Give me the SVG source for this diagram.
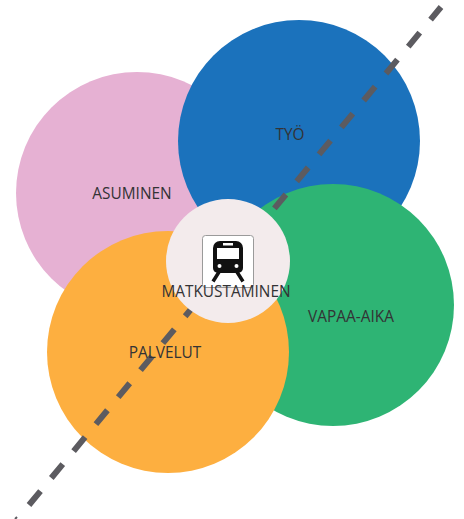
<svg xmlns="http://www.w3.org/2000/svg" width="464" height="519" viewBox="0 0 464 519">
<style>
text{font-family:"Open Sans","Liberation Sans",sans-serif;font-size:15.4px;fill:#333335;text-anchor:middle}
.c{stroke:none}
#connectors line{stroke:#5c5b60;stroke-width:6;stroke-dasharray:18 17;fill:none}
</style>
<rect width="464" height="519" fill="#fff"/>
<g id="asuminen"><circle class="c" cx="137" cy="193" r="121" fill="#e6b1d3"/></g>
<g id="tyo"><circle class="c" cx="299" cy="141" r="121" fill="#1b72bc"/></g>
<g id="vapaa-aika"><circle class="c" cx="333" cy="305" r="121" fill="#2eb474"/></g>
<g id="palvelut"><circle class="c" cx="168" cy="352" r="121" fill="#fdaf40"/></g>
<g id="connectors"><line x1="29" y1="505" x2="441" y2="7"/></g>
<g id="matkustaminen">
<circle class="c" cx="228" cy="261" r="62" fill="#f3ebec"/>
<rect x="202.500" y="235.500" width="51" height="52" rx="3" fill="#fff" stroke="#9a9a9a"/>
<path d="M220 241h16a7 7 0 0 1 7 7v20a5 5 0 0 1-5 5h-20a5 5 0 0 1-5-5v-20a7 7 0 0 1 7-7z" fill="#111"/>
<rect x="223" y="243" width="10" height="2.500" fill="#fff"/>
<rect x="217" y="248" width="22" height="11" fill="#fff"/>
<circle cx="219.500" cy="266" r="2" fill="#fff"/><circle cx="236.500" cy="266" r="2" fill="#fff"/>
<path d="M219 272l-6 9.500M237 272l6 9.500" stroke="#111" stroke-width="3.500" fill="none"/>
<text x="226" y="297">MATKUSTAMINEN</text>
</g>
<text x="290" y="140">TYÖ</text>
<text x="132" y="198.500">ASUMINEN</text>
<text x="351" y="322">VAPAA-AIKA</text>
<text x="165" y="358">PALVELUT</text>
<path d="M15 519l2-2" stroke="#5c5b60" stroke-width="2" fill="none"/>
</svg>
